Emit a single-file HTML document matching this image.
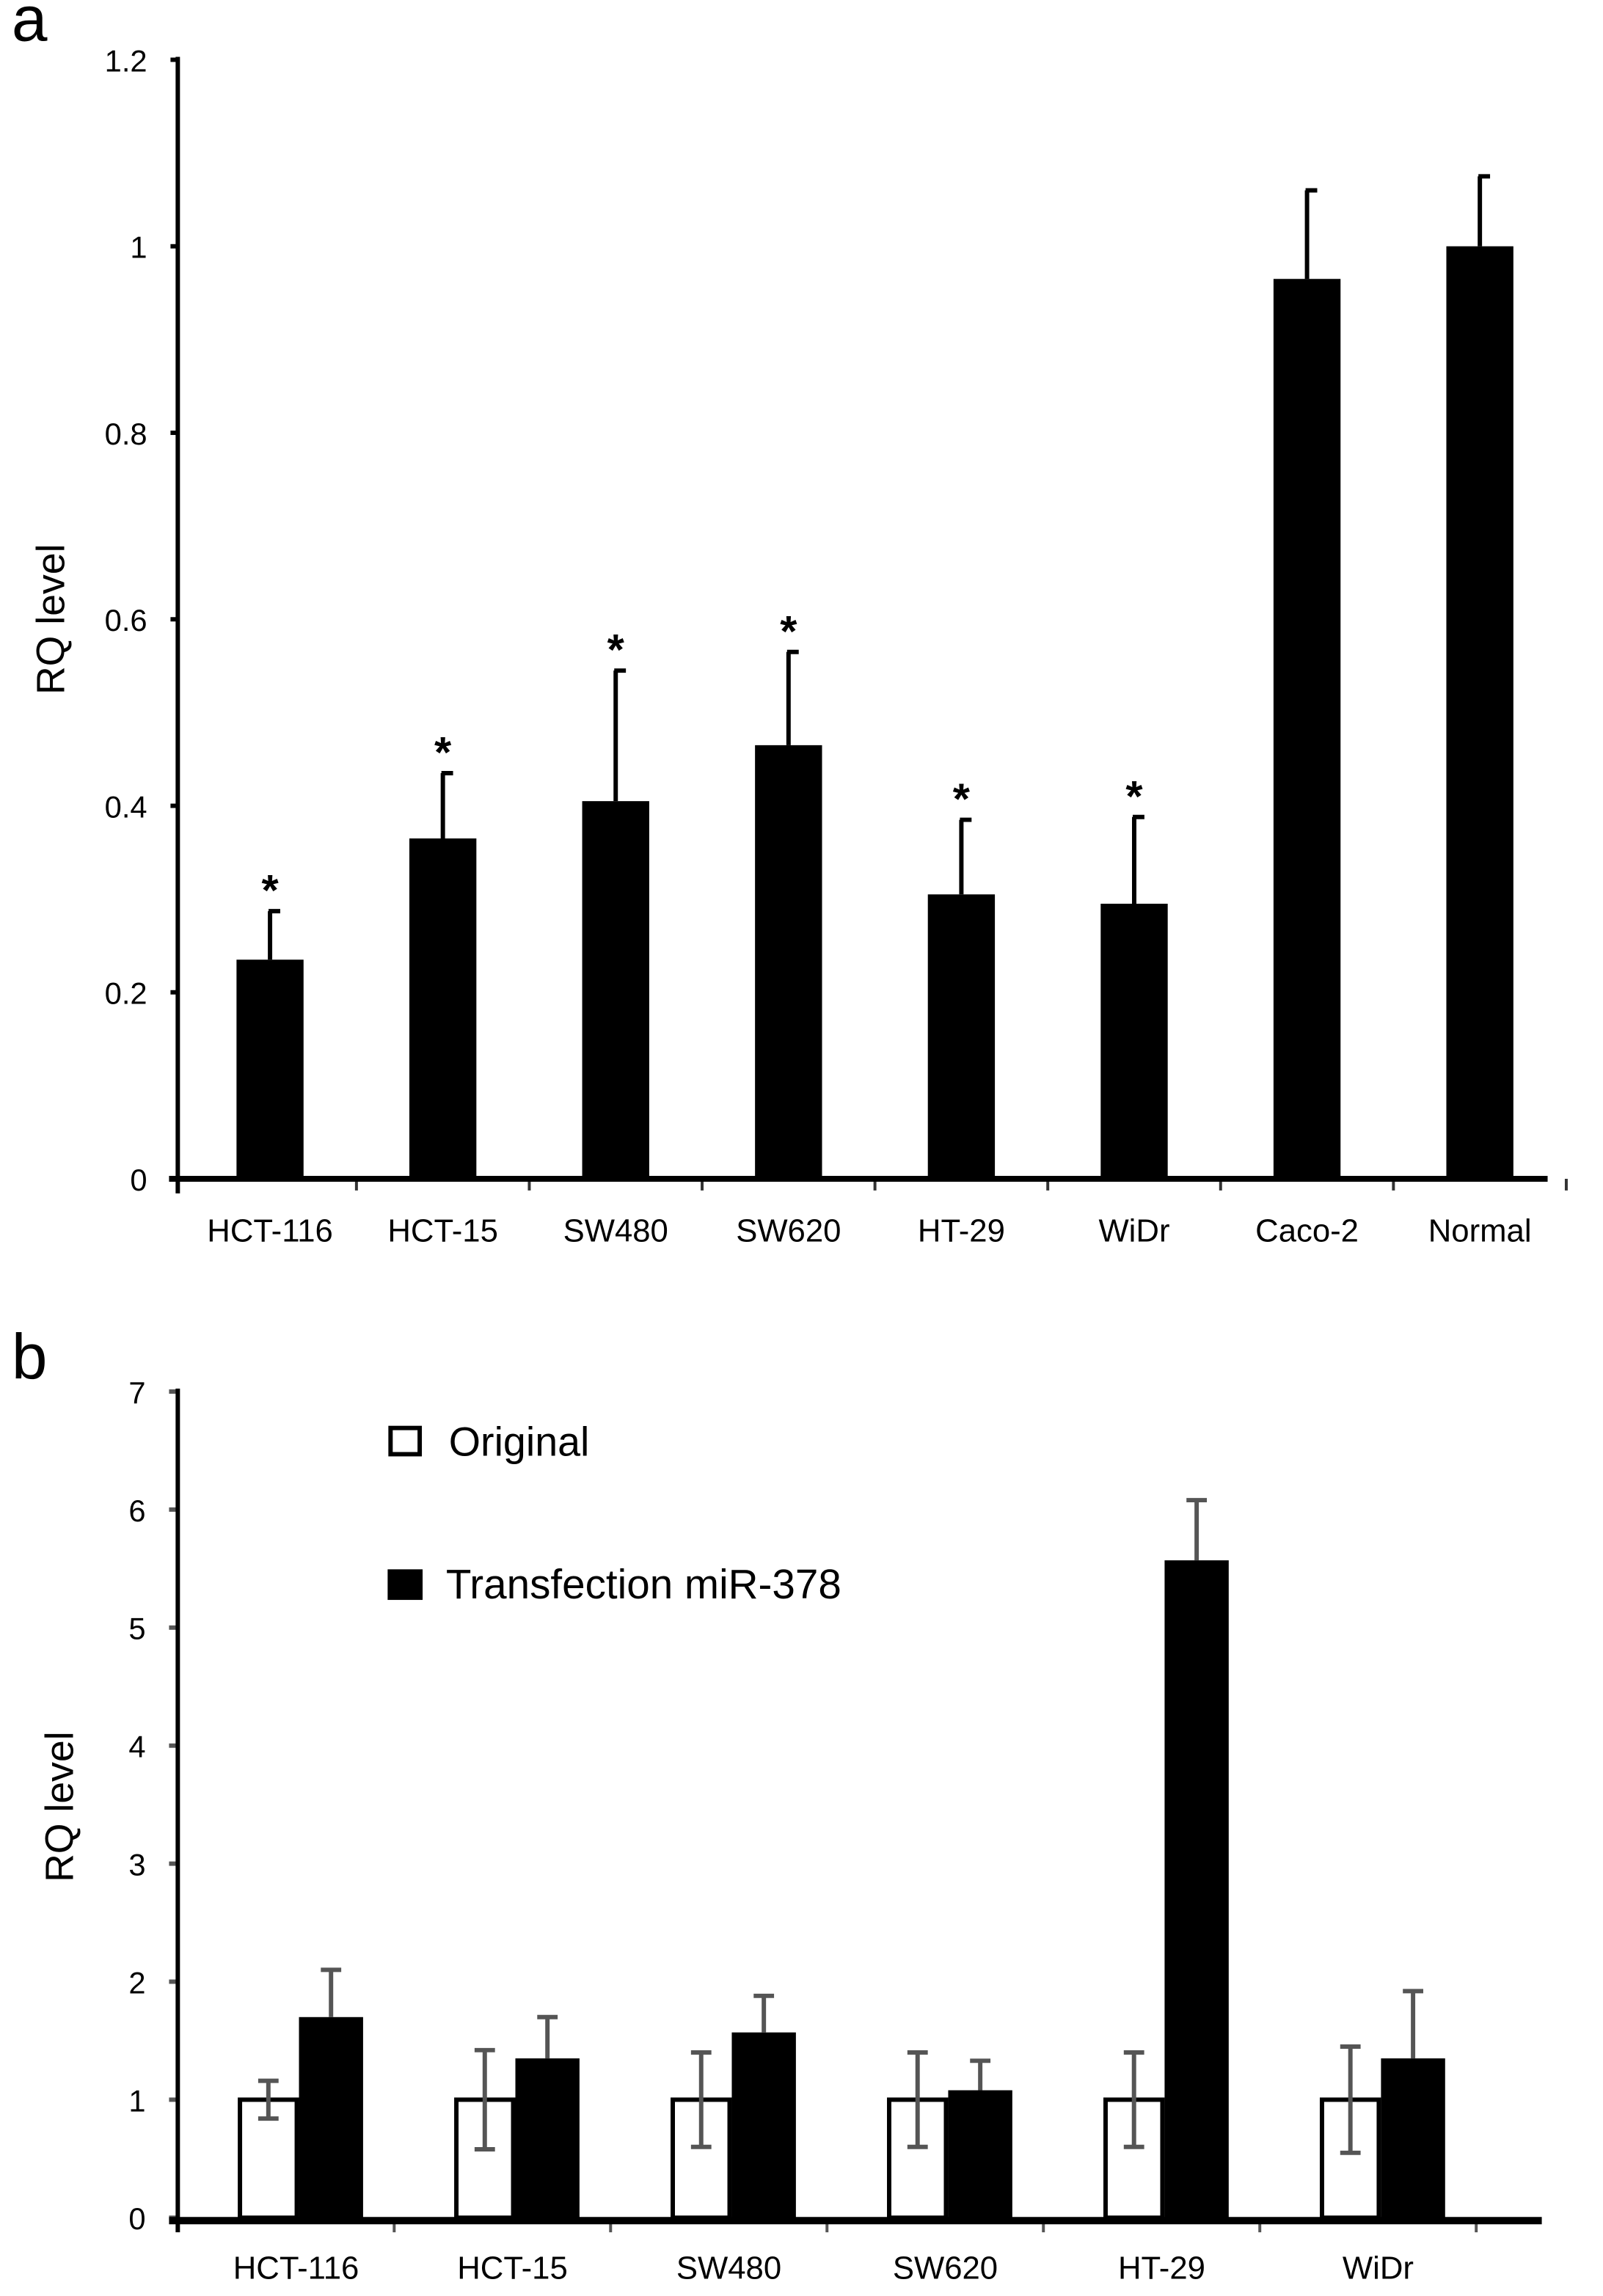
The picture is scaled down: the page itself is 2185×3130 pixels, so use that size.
<!DOCTYPE html>
<html><head><meta charset="utf-8"><style>
html,body{margin:0;padding:0;background:#fff}
svg{display:block}
text{font-family:"Liberation Sans",sans-serif;fill:#000}
</style></head><body>
<svg id="fig" width="2185" height="3130" viewBox="0 0 1100 1575.7" xmlns="http://www.w3.org/2000/svg">
<g id="pa"></g>
<g id="pb"></g>
</svg>
<script>
const catsA=["HCT-116","HCT-15","SW480","SW620","HT-29","WiDr","Caco-2","Normal"];
const valsA=[0.235,0.365,0.405,0.465,0.305,0.295,0.965,1.0];
const errA=[0.052,0.07,0.14,0.1,0.08,0.093,0.095,0.075];
const starA=[true,true,true,true,true,true,false,false];
const ticksA=[0,0.2,0.4,0.6,0.8,1,1.2];
const tickLabelsA=["0","0.2","0.4","0.6","0.8","1","1.2"];

const catsB=["HCT-116","HCT-15","SW480","SW620","HT-29","WiDr"];
const origB=[1,1,1,1,1,1];
const origErrB=[0.16,0.42,0.4,0.4,0.4,0.45];
const transB=[1.7,1.35,1.57,1.08,5.57,1.35];
const transErrB=[0.4,0.35,0.31,0.25,0.51,0.57];
const ticksB=[0,1,2,3,4,5,6,7];

const NS="http://www.w3.org/2000/svg";
function mk(parent,tag,attrs,txt){const e=document.createElementNS(NS,tag);for(const k in attrs)e.setAttribute(k,attrs[k]);if(txt!==undefined)e.textContent=txt;parent.appendChild(e);return e;}

// Panel A
const pa=document.getElementById('pa');
const ax0=122,ax1=1062,ay0=809,ay1=41,amax=1.2;
const ya=v=>ay0-(v/amax)*(ay0-ay1);
const bwA=118.6;
const xa=i=>126+bwA*(i+0.5);
let t=mk(pa,'text',{x:8,y:28,'font-size':44});
t.textContent='a';
t=mk(pa,'text',{x:44,y:425,'font-size':27,'text-anchor':'middle',transform:'rotate(-90 44 425)'},'RQ level');

ticksA.forEach((v,i)=>{
 const l=mk(pa,'line',{x1:ax0-5,x2:ax0,y1:ya(v),y2:ya(v),stroke:'#000','stroke-width':3});
 
 const tx=mk(pa,'text',{x:101,y:ya(v)+8,'font-size':21,'text-anchor':'end'},tickLabelsA[i]);
 
});
catsA.forEach((c,i)=>{
 const x=xa(i),w=46;
 const r=mk(pa,'rect',{x:x-w/2,y:ya(valsA[i]),width:w,height:ay0-ya(valsA[i]),fill:'#000'});
 
 const top=ya(valsA[i]+errA[i]);
 const e=mk(pa,'path',{d:`M${x} ${ya(valsA[i])}V${top}M${x-1} ${top}H${x+7}`,stroke:'#000','stroke-width':3,fill:'none'});
 
 if(starA[i]){const s=mk(pa,'text',{x:x,y:top-4,'font-size':30,'font-weight':'bold','text-anchor':'middle'},'*');
  }
 const lb=mk(pa,'text',{x:x,y:852,'font-size':22,'text-anchor':'middle'},c);
 
 const tk=mk(pa,'line',{x1:126+bwA*(i+1),x2:126+bwA*(i+1),y1:ay0,y2:ay0+8,stroke:'#333','stroke-width':2});
 
});
let l=mk(pa,'line',{x1:ax0,x2:ax0,y1:ay1-2,y2:ay0+10,stroke:'#000','stroke-width':3});

l=mk(pa,'line',{x1:ax0-6,x2:ax1,y1:ay0,y2:ay0,stroke:'#000','stroke-width':4});


// Panel B
const pb=document.getElementById('pb');
const bx0=122,bx1=1058,by0=1522,by1=955,bmax=7;
const yb=v=>by0-(v/bmax)*(by0-by1);
const gw=148.5;
const xb=i=>bx0+gw*(i+0.56);
t=mk(pb,'text',{x:8,y:946,'font-size':44},'b');

t=mk(pb,'text',{x:50,y:1240,'font-size':27,'text-anchor':'middle',transform:'rotate(-90 50 1240)'},'RQ level');

ticksB.forEach(v=>{
 const k=mk(pb,'line',{x1:bx0-6,x2:bx0,y1:yb(v),y2:yb(v),stroke:'#555','stroke-width':3});
 
 const tx=mk(pb,'text',{x:100,y:yb(v)+8,'font-size':21,'text-anchor':'end'},String(v));
 
});
catsB.forEach((c,i)=>{
 const cx=xb(i),w=42;
 const r1=mk(pb,'rect',{x:cx-w+1.5,y:yb(origB[i]),width:w-3,height:by0-yb(origB[i]),fill:'#fff',stroke:'#000','stroke-width':3});
 
 const r2=mk(pb,'rect',{x:cx,y:yb(transB[i]),width:w+2,height:by0-yb(transB[i]),fill:'#000'});
 
 const ox=cx-w/2,t1=yb(origB[i]+origErrB[i]),b1=yb(origB[i]-origErrB[i]);
 const e1=mk(pb,'path',{d:`M${ox} ${t1}V${b1}M${ox-7} ${t1}H${ox+7}M${ox-7} ${b1}H${ox+7}`,stroke:'#555','stroke-width':3,fill:'none'});
 
 const tx2=cx+w/2+1,t2=yb(transB[i]+transErrB[i]);
 const e2=mk(pb,'path',{d:`M${tx2} ${yb(transB[i])}V${t2}M${tx2-7} ${t2}H${tx2+7}`,stroke:'#555','stroke-width':3,fill:'none'});
 
 const lb=mk(pb,'text',{x:cx-2,y:1564,'font-size':22,'text-anchor':'middle'},c);
 
 const tk=mk(pb,'line',{x1:bx0+gw*(i+1),x2:bx0+gw*(i+1),y1:by0+2,y2:by0+10,stroke:'#555','stroke-width':2});
 
});
l=mk(pb,'line',{x1:bx0,x2:bx0,y1:by1-2,y2:by0+10,stroke:'#000','stroke-width':3});

l=mk(pb,'line',{x1:bx0-6,x2:bx1,y1:by0+2,y2:by0+2,stroke:'#000','stroke-width':5});

// legend
const lg=mk(pb,'g',{});

let s=mk(lg,'rect',{x:268,y:980,width:20,height:18,fill:'#fff',stroke:'#000','stroke-width':3});

s=mk(lg,'text',{x:308,y:999,'font-size':28},'Original');

s=mk(lg,'rect',{x:266,y:1077,width:24,height:21,fill:'#000'});

s=mk(lg,'text',{x:306,y:1097,'font-size':28.5},'Transfection miR-378');

</script>
</body></html>
